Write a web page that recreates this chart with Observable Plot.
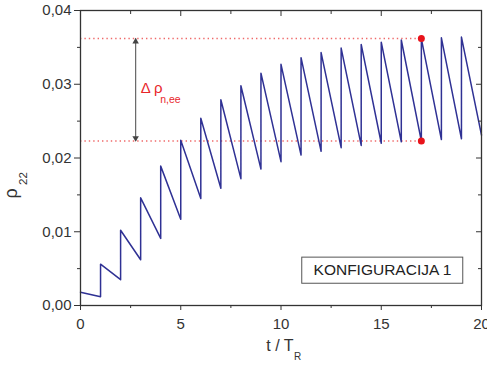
<!DOCTYPE html>
<html><head><meta charset="utf-8">
<script src="https://cdn.jsdelivr.net/npm/d3@7"></script>
<script src="https://cdn.jsdelivr.net/npm/@observablehq/plot@0.6"></script>
<style>body{margin:0;background:#fff}</style>
</head><body><div id="chart"></div>
<script>
// values
const peakTimes = [0,1,2,3,4,5,6,7,8,9,10,11,12,13,14,15,16,17,18,19];
const peaks = [0.0018,0.0056,0.0102,0.0146,0.0189,0.0224,0.0254,0.0279,0.0298,0.0315,0.0327,0.0336,0.0343,0.0349,0.0354,0.0357,0.0360,0.0362,0.0363,0.0364];
const troughTimes = [1,2,3,4,5,6,7,8,9,10,11,12,13,14,15,16,17,18,19,20];
const troughs = [0.0012,0.0035,0.0062,0.0091,0.0117,0.0145,0.0159,0.0172,0.0185,0.0195,0.0204,0.0209,0.0214,0.0217,0.0220,0.0222,0.0223,0.0225,0.0226,0.0231];
const xTicks = [0,5,10,15,20];
const xMinorTicks = [2.5,7.5,12.5,17.5];
const yTicks = [0,0.01,0.02,0.03,0.04];
const yMinorTicks = [0.005,0.015,0.025,0.035];
const deltaLevels = [0.0362,0.0223];
const markerTime = 17;
const arrowTime = 2.75;
const deltaLabel = [{t:3.0, v:0.0295, main:"Δ ρ", sub:"n,ee"}];
const boxLabel = [{text:"KONFIGURACIJA 1", t:15.06, v:0.00476, t1:11.06, t2:19.09, v1:0.00295, v2:0.00649}];

const series = [{t:peakTimes[0], v:peaks[0]}];
for (let i = 0; i < troughs.length; i++) {
  series.push({t:troughTimes[i], v:troughs[i]});
  if (i + 1 < peaks.length) series.push({t:peakTimes[i+1], v:peaks[i+1]});
}
const arrowHeads = [
  {t: arrowTime, v: deltaLevels[0], rot: 0, off: 3},
  {t: arrowTime, v: deltaLevels[1], rot: 180, off: -3}
];

const W = 487, H = 366, mL = 80, mR = 6, mT = 10, mB = 61;
const innerW = W - mL - mR, innerH = H - mT - mB;
const ink = "#333";
const red = "#e8262b";

const chart = Plot.plot({
  width: W, height: H,
  marginLeft: mL, marginRight: mR, marginTop: mT, marginBottom: mB,
  style: {fontFamily: "'Liberation Sans', Arial, sans-serif", background: "#fff", color: ink},
  x: {domain: [0, 20]},
  y: {domain: [0, 0.04]},
  marks: [
    Plot.ruleY(deltaLevels, {y: d => d, x1: 0, x2: markerTime, stroke: "#ef6a6a", strokeWidth: 1.4, strokeDasharray: "1.4,3"}),
    Plot.link([{t: arrowTime, hi: deltaLevels[0], lo: deltaLevels[1]}], {x1: "t", x2: "t", y1: "hi", y2: "lo", stroke: "#666", strokeWidth: 1.2}),
    Plot.dot(arrowHeads.slice(0, 1), {x: "t", y: "v", symbol: "triangle", r: 2.4, fill: "#444", stroke: "none", dy: 3}),
    Plot.dot(arrowHeads.slice(1), {x: "t", y: "v", symbol: "triangle", r: 2.4, fill: "#444", stroke: "none", rotate: 180, dy: -3}),
    Plot.text(deltaLabel, {x: "t", y: "v", text: "main", textAnchor: "start", fontSize: 15, fill: red}),
    Plot.text(deltaLabel, {x: "t", y: "v", text: "sub", textAnchor: "start", fontSize: 10.5, fill: red, dx: 19.5, dy: 11.6}),
    Plot.line(series, {x: "t", y: "v", stroke: "#2f3194", strokeWidth: 1.5}),
    Plot.dot(deltaLevels, {x: () => markerTime, y: d => d, r: 3.5, fill: "#e8131b"}),
    Plot.rect(boxLabel, {x1: "t1", x2: "t2", y1: "v1", y2: "v2", fill: "#fff", stroke: "#555", strokeWidth: 1}),
    Plot.text(boxLabel, {x: "t", y: "v", text: "text", fontSize: 15.5, fill: "#222"}),
    Plot.frame({stroke: ink, strokeWidth: 1.3}),
    Plot.axisX(xTicks, {anchor: "bottom", tickSize: 5, tickPadding: 8, fontSize: 15, tickFormat: d => String(d), label: null}),
    Plot.tickX(xMinorTicks, {x: d => d, insetTop: innerH, insetBottom: -3, stroke: ink}),
    Plot.tickX(xTicks, {x: d => d, insetBottom: innerH - 6, stroke: ink}),
    Plot.tickX(xMinorTicks, {x: d => d, insetBottom: innerH - 4, stroke: ink}),
    Plot.axisY(yTicks, {anchor: "left", tickSize: 6, tickPadding: 3, fontSize: 15, tickFormat: d => d.toFixed(2).replace(".", ","), label: null}),
    Plot.tickY(yMinorTicks, {y: d => d, insetLeft: -3, insetRight: innerW, stroke: ink}),
    Plot.tickY(yTicks, {y: d => d, insetLeft: innerW - 5, stroke: ink}),
    Plot.tickY(yMinorTicks, {y: d => d, insetLeft: innerW - 3, stroke: ink}),
    Plot.text(["ρ"], {frameAnchor: "left", text: d => d, rotate: -90, textAnchor: "start", fontSize: 18, dx: -69.3, dy: 40.5, fill: ink}),
    Plot.text(["22"], {frameAnchor: "left", text: d => d, rotate: -90, textAnchor: "start", fontSize: 11.5, dx: -57.5, dy: 27, fill: ink}),
    Plot.text(["t / T"], {frameAnchor: "bottom", text: d => d, textAnchor: "end", fontSize: 16, dx: 12.5, dy: 45, fill: ink}),
    Plot.text(["R"], {frameAnchor: "bottom", text: d => d, fontSize: 10, dx: 16.5, dy: 54, fill: ink})
  ]
});
document.getElementById("chart").appendChild(chart);
</script>
</body></html>
